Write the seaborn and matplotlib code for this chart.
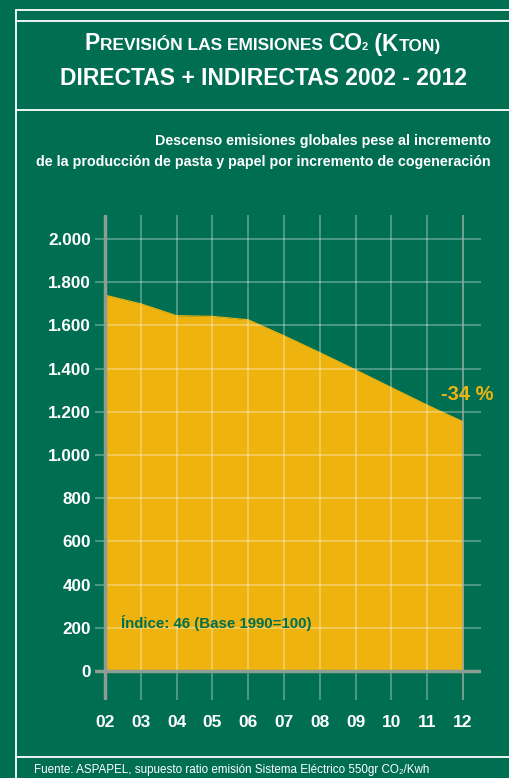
import matplotlib
matplotlib.use("Agg")
import matplotlib.pyplot as plt
from matplotlib.lines import Line2D
from matplotlib.offsetbox import TextArea, HPacker, AnnotationBbox
import seaborn as sns

# data
years = [2, 3, 4, 5, 6, 7, 8, 9, 10, 11, 12]
year_labels = ["02", "03", "04", "05", "06", "07", "08", "09", "10", "11", "12"]
emissions = [1740, 1700, 1645, 1642, 1626, 1552, 1474, 1394, 1312, 1231, 1154]
y_ticks = [0, 200, 400, 600, 800, 1000, 1200, 1400, 1600, 1800, 2000]

GREEN = "#006e50"
YELLOW = "#eeb30f"
AXIS_GREY = "#8e9d93"
W, H = 509, 778

sns.set_theme(style="white")
plt.rcParams["font.family"] = ["Liberation Sans", "DejaVu Sans"]

fig = plt.figure(figsize=(W / 100, H / 100), dpi=100)
fig.patch.set_facecolor(GREEN)


def px(x, y):
    return x / W, 1 - y / H


# white frame lines
def hline(y, x0=16, x1=W):
    fig.add_artist(Line2D([x0 / W, x1 / W], [1 - y / H, 1 - y / H],
                          transform=fig.transFigure, color="white", lw=1.3))


hline(10)
hline(21)
hline(110)
hline(757)
fig.add_artist(Line2D([16 / W, 16 / W], [1 - 10 / H, 0],
                      transform=fig.transFigure, color="white", lw=1.3))

# title, first line in small caps
big, small = 16.5, 12.5
parts = [("P", big), ("REVISIÓN LAS EMISIONES ", small), ("CO", big), ("2", 8),
         (" (K", big), ("TON)", small)]
areas = [TextArea(t, textprops=dict(color="white", fontsize=s, fontweight="bold"))
         for t, s in parts]
pack = HPacker(children=areas, align="baseline", pad=0, sep=0)
ab = AnnotationBbox(pack, px(263, 44), xycoords="figure fraction", frameon=False,
                    box_alignment=(0.5, 0.5))
fig.add_artist(ab)
fig.text(*px(263, 85), "DIRECTAS + INDIRECTAS 2002 - 2012", color="white",
         fontsize=big, fontweight="bold", ha="center", va="baseline")

# subtitle
fig.text(*px(491, 145), "Descenso emisiones globales pese al incremento",
         color="white", fontsize=10.3, fontweight="bold", ha="right", va="baseline")
fig.text(*px(491, 166), "de la producción de pasta y papel por incremento de cogeneración",
         color="white", fontsize=10.3, fontweight="bold", ha="right", va="baseline")

# chart area
ax = fig.add_axes([95 / W, 78 / H, 386 / W, 485 / H])
ax.set_facecolor(GREEN)
ax.fill_between(years, emissions, 0, color=YELLOW, lw=0, zorder=1)
sns.lineplot(x=years, y=emissions, color=YELLOW, lw=0.8, ax=ax, zorder=1)

ax.set_xlim(1.72, 12.5)
ax.set_ylim(-134, 2111)
ax.set_xticks(years)
ax.set_xticklabels(year_labels)
ax.set_yticks(y_ticks)
ax.set_yticklabels([f"{v:,}".replace(",", ".") for v in y_ticks])
ax.set_axisbelow(False)
ax.grid(True, color="white", alpha=0.38, lw=1.1)
ax.axhline(0, color=AXIS_GREY, lw=2.5, zorder=3)
ax.axvline(2, color=AXIS_GREY, lw=2.5, zorder=3)
ax.axvline(12, color=AXIS_GREY, lw=1.2, alpha=0.8, zorder=3)
for s in ax.spines.values():
    s.set_visible(False)
ax.tick_params(axis="y", length=0, colors="white", labelsize=12.3, pad=3)
ax.tick_params(axis="x", length=0, colors="white", labelsize=12.5, pad=11)
for lab in ax.get_xticklabels() + ax.get_yticklabels():
    lab.set_fontweight("bold")
ax.set_xlabel("")
ax.set_ylabel("")

fig.text(*px(467, 395), "-34 %", color=YELLOW, fontsize=14.5, fontweight="bold",
         ha="center", va="center")
fig.text(*px(121, 628), "Índice: 46 (Base 1990=100)", color=GREEN, fontsize=10.8,
         fontweight="bold", ha="left", va="baseline")

# source note under the bottom frame line
fig.text(*px(34, 773), "Fuente: ASPAPEL, supuesto ratio emisión Sistema Eléctrico 550gr CO₂/Kwh",
         color="white", fontsize=8.4, ha="left", va="baseline")

fig.savefig("out.png", dpi=100, facecolor=GREEN)
